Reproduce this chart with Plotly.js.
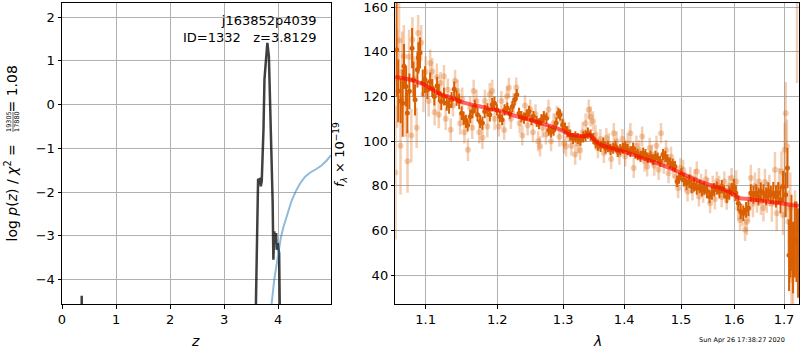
<!DOCTYPE html>
<html>
<head>
<meta charset="utf-8">
<script src="https://cdn.plot.ly/plotly-3.0.1.min.js"></script>
<style>html,body{margin:0;padding:0;background:#fff;}#chart{width:800px;height:350px;}</style>
</head>
<body>
<div id="chart"></div>
<script>
// ---- left panel: redshift probability ----
const pzZ = [0, 0.35, 0.365, 0.38, 3.55, 3.59, 3.63, 3.667, 3.68, 3.698, 3.73, 3.748, 3.772, 3.802, 3.83, 3.85, 3.876, 3.90, 3.913, 3.93, 3.95, 3.963, 3.975, 3.994, 4.02, 4.043, 4.08, 4.98];
const pzLog = [-10, -10, -4.37, -10, -10, -4.56, -1.72, -1.70, -1.87, -1.75, -0.57, 0.57, 0.95, 1.41, 1.10, 0.19, -0.95, -2.25, -3.55, -2.90, -3.17, -2.94, -3.32, -3.17, -3.40, -4.55, -10, -10];
const blueZ = [3.85, 3.88, 3.93, 4.0, 4.05, 4.1, 4.16, 4.25, 4.33, 4.41, 4.5, 4.59, 4.7, 4.8, 4.9, 4.98];
const blueY = [-5.2, -4.56, -4.0, -3.5, -3.05, -2.8, -2.56, -2.2, -1.98, -1.8, -1.65, -1.56, -1.48, -1.4, -1.28, -1.16];
const zTicks = [0, 1, 2, 3, 4];
const pTicks = [-4, -3, -2, -1, 0, 1, 2];

// ---- right panel: spectrum ----
const darkLam = [1.0618,1.0639,1.0671,1.0697,1.0714,1.0741,1.0758,1.0784,1.0820,1.0837,1.0859,1.0890,1.0903,1.0925,1.0961,1.0991,
1.1022,1.1060,1.1088,1.1116,1.1154,1.1177,1.1210,1.1247,1.1285,1.1317,1.1351,1.1387,1.1421,1.1457,1.1491,1.1519,1.1551,1.1575,1.1611,1.1645,1.1677,1.1715,1.1752,1.1785,1.1818,1.1856,1.1892,1.1926,1.1958,
1.1995,1.2035,1.2071,1.2106,1.2146,1.2185,1.2222,1.2256,1.2287,1.2321,1.2357,1.2396,1.2437,1.2472,1.2508,1.2538,1.2588,1.2623,1.2659,1.2698,1.2739,1.2773,1.2810,1.2849,1.2890,1.2925,1.2950,1.2991,
1.3028,1.3066,1.3110,1.3155,1.3193,1.3231,1.3275,1.3320,1.3358,1.3396,1.3440,1.3484,1.3522,1.3560,1.3605,1.3649,1.3687,1.3725,1.3770,1.3814,1.3852,1.3890,1.3934,1.3979,
1.4017,1.4058,1.4105,1.4152,1.4192,1.4232,1.4279,1.4326,1.4366,1.4407,1.4454,1.4501,1.4541,1.4581,1.4628,1.4675,1.4716,1.4756,1.4803,1.4850,1.4890,1.4930,1.4965,
1.5008,1.5051,1.5102,1.5151,1.5196,1.5239,1.5291,1.5340,1.5385,1.5428,1.5479,1.5528,1.5574,1.5617,1.5668,1.5717,1.5762,1.5806,1.5857,1.5906,1.5951,
1.5994,1.6034,1.6080,1.6128,1.6180,1.6234,1.6280,1.6328,1.6380,1.6434,1.6480,1.6528,1.6580,1.6634,1.6680,1.6728,1.6780,1.6834,1.6880,1.6928,1.6980,
1.7035,1.7071,1.7104,1.7133,1.7154,1.7187,1.7223,1.7258,1.7292];
const darkFlux = [140.9,122.5,118,117,133.5,124.5,112.6,122.3,141.6,127.5,118.5,132,137.3,139.5,126.1,127.5,
122.9,126.7,123.8,120,124.8,121.5,117.8,120,117.1,115.8,118.5,123.2,119.3,117.8,112.5,110.3,108.8,107.3,111,113.3,115.5,111.8,108.8,108.1,113.3,114,111.8,116.3,117,
114,111,109.6,114,114.8,112.5,115.5,118.5,120.8,112.5,111,110.3,111.8,113.3,109.6,111,108.8,107.8,109.6,111,110.3,104.9,104.2,104.9,108.1,112.5,111.8,107.3,
105.9,104.2,102.7,101.2,101.9,101.2,100.5,101.9,102.4,103.6,102.7,101.2,99.2,98.2,97.7,99.2,96.9,97.7,96.2,96.9,97.7,95.4,96.2,96.9,
97.7,96.2,95.4,96.9,94.7,94,93.2,94.7,94,92.5,93.2,91.7,93.2,92.5,91,94,93.2,91.7,90.2,89.5,88.7,82,83.5,
85,82.7,81.2,82,79.7,80.5,79,79.7,78.3,79,77.5,75.3,76.8,78.3,79,77.5,79.7,77.5,75.3,76.8,78.3,
79.7,76.8,72.3,68.6,67.8,69.3,70.1,76.8,76,76.8,75.3,77.5,76.8,75.3,77.5,76,76.8,75.3,76.8,73.8,79.7,
76,88,49,55,59,48,56,55,50];
const darkErr = [21,14,10,15,10,9,9,8,9,8,7,8,7,7,6,6,
4,4,4,4,4,4,4,4,3.5,3.5,3.5,3.5,3.5,3.5,3,3,3,3,3,3,3,3,3,3,3,3,3,3,3,
2.5,2.5,2.5,2.5,2.5,2.5,2.5,2.5,2.5,2.5,2.5,2.5,2.5,2.5,2.5,2.5,2.5,2.5,2.5,2.5,2.5,2.5,2.5,2.5,2.5,2.5,2.5,2.5,
2.5,2.5,2.5,2.5,2.5,2.5,2.5,2.5,2.5,2.5,2.5,2.5,2.5,2.5,2.5,2.5,2.5,2.5,2.5,2.5,2.5,2.5,2.5,2.5,
2.5,2.5,2.5,2.5,2.5,2.5,2.5,2.5,2.5,2.5,2.5,2.5,2.5,2.5,2.5,2.5,2.5,2.5,2.5,2.5,2.5,2.5,2.5,
3,3,3,3,3,3,3,3,3,3,3,3,3,3,3,3,3,3,3,3,3,
3.5,3.5,3.5,3.5,3.5,3.5,3.5,4,4,4,4,4,4,4,4,4,5,5,5,6,7,
10,9,16,16,17,16,17,18,20];

const lightLam = [1.0603,1.0625,1.0650,1.0669,1.0690,1.0712,1.0735,1.0760,1.0780,1.0810,1.0824,1.0850,1.0880,1.0900,1.0940,1.0970,
1.1000,1.1040,1.1060,1.1088,1.1120,1.1150,1.1177,1.1200,1.1247,1.1270,1.1300,1.1340,1.1370,1.1400,1.1435,1.1470,1.1500,1.1530,1.1579,1.1610,1.1640,1.1660,1.1700,1.1740,1.1785,1.1820,1.1856,1.1890,1.1926,1.1960,
1.2020,1.2060,1.2100,1.2140,1.2170,1.2200,1.2240,1.2280,1.2330,1.2370,1.2410,1.2450,1.2490,1.2530,1.2570,1.2610,1.2640,1.2680,1.2730,1.2770,1.2810,1.2850,1.2900,1.2940,1.2980,
1.3010,1.3045,1.3090,1.3130,1.3190,1.3230,1.3270,1.3310,1.3360,1.3410,1.3440,1.3480,1.3520,1.3560,1.3600,1.3659,1.3700,1.3740,1.3780,1.3824,1.3870,1.3920,1.3970,
1.4017,1.4060,1.4105,1.4163,1.4210,1.4260,1.4309,1.4350,1.4396,1.4440,1.4480,1.4520,1.4560,1.4598,1.4640,1.4690,1.4730,1.4774,1.4820,1.4860,1.4910,1.4948,1.4990,
1.5038,1.5080,1.5120,1.5170,1.5210,1.5250,1.5291,1.5330,1.5370,1.5410,1.5460,1.5500,1.5540,1.5590,1.5630,1.5668,1.5710,1.5760,1.5810,1.5857,1.5900,1.5951,
1.6000,1.6040,1.6080,1.6114,1.6160,1.6214,1.6250,1.6290,1.6328,1.6370,1.6410,1.6450,1.6490,1.6530,1.6580,1.6610,1.6650,1.6700,1.6750,1.6814,1.6850,1.6900,1.6948,1.6980,
1.7014,1.7035,1.7060,1.7090,1.7130,1.7154,1.7187,1.7230,1.7270];
const lightFlux = [86,128,145,98,131,138,118,91,137.8,102.5,145.4,128,106,148.4,144,121,
131,118,135,131.2,113,128.7,111.8,126,129.1,110,123,105.1,116,127,122.5,108,119,104,96.2,115,106,122.5,118,104,101.5,118,106.6,121,122.5,110,
106.6,118,105,120,123.9,110,117,124,108,102.6,116,107,114.2,104,112,100,97.7,106,103,114.2,100,108,111.3,102,109,
99,97.7,104,98,94,99,96,104,108,114.1,111.1,108.9,103,96.9,101,94.7,101.4,99,92,103.6,100,94,101,
93.2,99,103.6,88,98,96,102.1,91,88.7,97,94,89,98,87.2,103.6,90,96,85.7,93,88,84,79,88,
87.2,82,77.5,84,78,83,86.4,75.3,81,77,83,79,72.3,80,74,82,80,75,82,73.8,80,83.5,
78,82,70,64.8,67,60.4,64,70,83.5,72,80,74,82,73,70.1,81.7,75,78,72,87.2,67.8,80,86.4,67,
96.2,112.5,97.7,64,70,38,41.7,60,163];
const lightErr = [30,22,18,22,18,14,16,14,12,12,10,10,9,8,8,8,
7,7,6,6,6,6,6,5,5,5,5,5,5,5,5,5,5,5,5,5,5,5,5,5,5,5,5,5,5,5,
4.5,4.5,4.5,4.5,4.5,4.5,4.5,4.5,4.5,4.5,4.5,4.5,4.5,4.5,4.5,4.5,4.5,4.5,4.5,4.5,4.5,4.5,4.5,4.5,4.5,
4.5,4.5,4.5,4.5,4.5,4.5,4.5,4.5,4.5,4.5,4.5,4.5,4.5,4.5,4.5,4.5,4.5,4.5,4.5,4.5,4.5,4.5,4.5,
4.5,4.5,4.5,4.5,4.5,4.5,4.5,4.5,4.5,4.5,4.5,4.5,4.5,4.5,4.5,4.5,4.5,4.5,4.5,4.5,4.5,4.5,4.5,
4.5,4.5,4.5,4.5,4.5,4.5,4.5,4.5,4.5,4.5,4.5,4.5,4.5,4.5,4.5,4.5,4.5,4.5,4.5,4.5,4.5,4.5,
5,5,5,5,5,5,6,6,6,6,6,6,6,6,6,6,7,7,8,8,8,8,9,9,
12,14,12,14,16,16,16,18,37];

const modelLam = [1.060,1.07,1.08,1.09,1.10,1.11,1.12,1.13,1.15,1.18,1.20,1.23,1.25,1.28,1.30,1.31,1.32,1.335,1.342,1.35,1.36,1.38,1.40,1.43,1.45,1.48,1.50,1.52,1.55,1.58,1.59,1.60,1.61,1.63,1.65,1.68,1.70,1.72,1.731];
const modelFlux = [128.8,128.2,127.5,126.3,125,122.8,121,120,117.5,115.2,113.8,111,109.5,106.7,104.5,103,102.5,102.3,102.8,100.5,98.5,96.8,95.3,92.5,90.8,88,85.8,83.5,80.7,78.5,77.5,76,74.6,74.2,73.5,72.6,72,71.3,71.1];
const lamTicks = [1.1, 1.2, 1.3, 1.4, 1.5, 1.6, 1.7];
const fluxTicks = [40, 60, 80, 100, 120, 140, 160];

const ORANGE = 'rgb(217,95,2)';
const ORANGE_L = 'rgba(217,95,2,0.3)';
const FONT = 'DejaVu Sans, Verdana, sans-serif';

const traces = [
  {x: pzZ, y: pzLog, type: 'scatter', mode: 'lines', xaxis: 'x', yaxis: 'y',
   line: {color: 'rgba(0,0,0,0.75)', width: 2.5}, hoverinfo: 'skip'},
  {x: blueZ, y: blueY, type: 'scatter', mode: 'lines', xaxis: 'x', yaxis: 'y',
   line: {color: 'rgba(31,119,180,0.5)', width: 2}, hoverinfo: 'skip'},
  {x: lightLam, y: lightFlux, type: 'scatter', mode: 'markers', xaxis: 'x2', yaxis: 'y2',
   marker: {color: ORANGE_L, size: 6, line: {width: 0}},
   error_y: {type: 'data', array: lightErr, visible: true, color: ORANGE_L, thickness: 2.5, width: 0}},
  {x: darkLam, y: darkFlux, type: 'scatter', mode: 'markers', xaxis: 'x2', yaxis: 'y2',
   marker: {color: ORANGE, size: 5, line: {width: 0}},
   error_y: {type: 'data', array: darkErr, visible: true, color: ORANGE, thickness: 2, width: 0}},
  {x: modelLam, y: modelFlux, type: 'scatter', mode: 'lines', xaxis: 'x2', yaxis: 'y2',
   line: {color: 'rgba(255,0,0,0.6)', width: 4, shape: 'spline'}, hoverinfo: 'skip'}
];

const axCommon = {
  showgrid: true, gridcolor: '#b0b0b0', gridwidth: 1,
  showline: true, linecolor: '#000', linewidth: 1, mirror: true,
  ticks: 'outside', ticklen: 3.5, tickcolor: '#000', tickwidth: 1,
  zeroline: false, ticklabeloverflow: 'allow',
  tickfont: {family: FONT, size: 13, color: '#000'}
};

const px2x = p => (p - 62) / 737;
const px2y = p => (304 - p) / 301;

const layout = {
  width: 800, height: 350,
  margin: {l: 62, r: 1, t: 3, b: 46},
  paper_bgcolor: '#fff', plot_bgcolor: '#fff',
  showlegend: false,
  font: {family: FONT, size: 13, color: '#000'},
  xaxis: Object.assign({}, axCommon, {domain: [0, 0.365], range: [0, 4.98], tickvals: zTicks, anchor: 'y'}),
  yaxis: Object.assign({}, axCommon, {domain: [0, 1], range: [-4.56, 2.32], tickvals: pTicks, anchor: 'x'}),
  xaxis2: Object.assign({}, axCommon, {domain: [0.4522, 1], type: 'log', range: [Math.log10(1.0601), Math.log10(1.7312)],
    tickvals: lamTicks, ticktext: lamTicks.map(v => v.toFixed(1)), anchor: 'y2'}),
  yaxis2: Object.assign({}, axCommon, {domain: [0, 1], range: [27.2, 161.8], tickvals: fluxTicks, anchor: 'x2'}),
  annotations: [
    {xref: 'paper', yref: 'paper', x: px2x(318), y: px2y(11), xanchor: 'right', yanchor: 'top', align: 'right', showarrow: false,
     text: 'j163852p4039<br>ID=1332&nbsp;&nbsp;&nbsp;z=3.8129', font: {family: FONT, size: 13, color: '#000'}},
    {xref: 'paper', yref: 'paper', x: px2x(195), y: px2y(341), xanchor: 'center', yanchor: 'middle', showarrow: false,
     text: '<i>z</i>', font: {family: FONT, size: 14, color: '#000'}},
    {xref: 'paper', yref: 'paper', x: px2x(597), y: px2y(341), xanchor: 'center', yanchor: 'middle', showarrow: false,
     text: '<i>λ</i>', font: {family: FONT, size: 14, color: '#000'}},
    {xref: 'paper', yref: 'paper', x: px2x(11), y: px2y(244), xanchor: 'center', yanchor: 'bottom', showarrow: false, textangle: -90,
     text: 'log&nbsp;<i>p</i>(<i>z</i>)&nbsp;/&nbsp;<i>χ</i><sup>2</sup>&nbsp;=', font: {family: FONT, size: 14, color: '#000'}},
    {xref: 'paper', yref: 'paper', x: px2x(13), y: px2y(122), xanchor: 'center', yanchor: 'middle', showarrow: false, textangle: -90,
     text: '19305<br>17880', font: {family: FONT, size: 6.5, color: '#000'}},
    {xref: 'paper', yref: 'paper', x: px2x(11), y: px2y(64), xanchor: 'center', yanchor: 'top', showarrow: false, textangle: -90,
     text: '=&nbsp;1.08', font: {family: FONT, size: 14, color: '#000'}},
    {xref: 'paper', yref: 'paper', x: px2x(340), y: px2y(155), xanchor: 'center', yanchor: 'middle', showarrow: false, textangle: -90,
     text: '<i>f</i><sub><i>λ</i></sub>&nbsp;×&nbsp;10<sup>−19</sup>', font: {family: FONT, size: 13, color: '#000'}},
    {xref: 'paper', yref: 'paper', x: px2x(742), y: px2y(340), xanchor: 'center', yanchor: 'middle', showarrow: false,
     text: 'Sun Apr 26 17:38:27 2020', font: {family: FONT, size: 6.5, color: '#000'}}
  ],
  shapes: [
    {type: 'line', xref: 'paper', yref: 'paper', x0: px2x(13), x1: px2x(13), y0: px2y(112), y1: px2y(132),
     line: {color: '#000', width: 0.6}}
  ]
};

Plotly.newPlot('chart', traces, layout, {staticPlot: true, displayModeBar: false});
</script>
</body>
</html>
